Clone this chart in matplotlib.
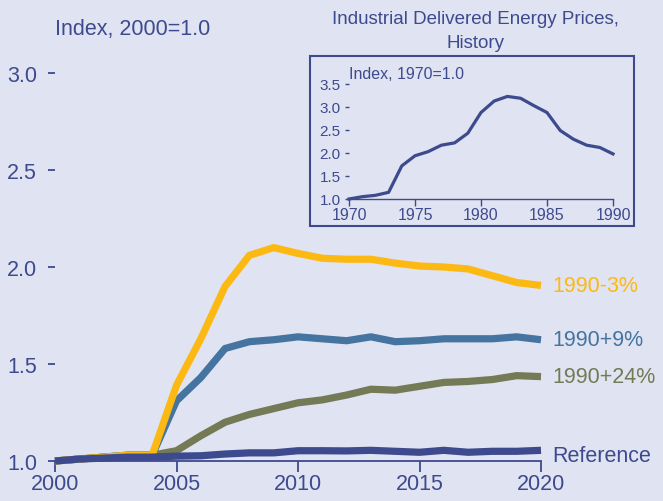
import matplotlib
matplotlib.use("Agg")
import matplotlib.pyplot as plt
from matplotlib.patches import Rectangle

plt.rcParams['font.family'] = ['Liberation Sans', 'DejaVu Sans']

years = list(range(2000, 2021))
s_minus3 = [1.0, 1.01, 1.02, 1.03, 1.03, 1.39, 1.63, 1.90, 2.06, 2.10, 2.07, 2.045, 2.04, 2.04, 2.02, 2.005, 2.0, 1.99, 1.955, 1.92, 1.905]
s_plus9 = [1.0, 1.01, 1.02, 1.03, 1.03, 1.31, 1.43, 1.58, 1.615, 1.625, 1.64, 1.63, 1.62, 1.64, 1.615, 1.62, 1.63, 1.63, 1.63, 1.64, 1.625]
s_plus24 = [1.0, 1.01, 1.02, 1.03, 1.03, 1.053, 1.13, 1.20, 1.24, 1.27, 1.30, 1.315, 1.34, 1.37, 1.365, 1.385, 1.405, 1.41, 1.42, 1.44, 1.435]
s_ref = [1.0, 1.01, 1.015, 1.02, 1.02, 1.025, 1.027, 1.036, 1.042, 1.042, 1.053, 1.053, 1.052, 1.055, 1.05, 1.045, 1.055, 1.045, 1.05, 1.05, 1.055]
series_labels = ["1990-3%", "1990+9%", "1990+24%", "Reference"]

hist_years = list(range(1970, 1991))
hist_vals = [1.0, 1.05, 1.08, 1.145, 1.72, 1.94, 2.03, 2.17, 2.22, 2.43, 2.88, 3.13, 3.23, 3.19, 3.03, 2.88, 2.49, 2.30, 2.17, 2.12, 1.98]

bg = '#E0E3F1'
navy = '#3D4A8E'
colors = ['#FDB913', '#44749F', '#737A55', '#3D4A8E']

fig = plt.figure(figsize=(6.63, 5.02), dpi=100, facecolor=bg)
ax = fig.add_axes([55/663, 40/502, 486/663, 388/502], facecolor=bg)

order = [(s_plus24, colors[2]), (s_plus9, colors[1]), (s_minus3, colors[0]), (s_ref, colors[3])]
for vals, c in order:
    ax.plot(years, vals, color=c, lw=5.2, solid_capstyle='butt', solid_joinstyle='round', clip_on=False, zorder=3)

ax.set_xlim(2000, 2020)
ax.set_ylim(1.0, 3.0)
ax.set_xticks([2000, 2005, 2010, 2015, 2020])
ax.set_yticks([1.0, 1.5, 2.0, 2.5, 3.0])
ax.set_yticklabels(['1.0', '1.5', '2.0', '2.5', '3.0'])
for s in ['top', 'right', 'left']:
    ax.spines[s].set_visible(False)
ax.spines['bottom'].set_color(navy)
ax.spines['bottom'].set_linewidth(1.3)
ax.tick_params(axis='x', colors=navy, labelsize=15.5, length=8, width=1.3, pad=1, direction='out')
ax.tick_params(axis='y', colors=navy, labelsize=15.5, length=5, width=1.3, pad=8, direction='out')
ax.text(-0.0, 1.115, "Index, 2000=1.0", transform=ax.transAxes, color=navy, fontsize=15.5, ha='left', va='center')

ends = [s_minus3[-1], s_plus9[-1], s_plus24[-1], s_ref[-1]]
dys = [0, 0, 0, -4]
for lab, v, c, dy in zip(series_labels, ends, colors, dys):
    ax.annotate(lab, xy=(2020, v), xytext=(8, dy), textcoords='offset points', color=c,
                fontsize=15.5, ha='left', va='center', annotation_clip=False)

# inset box
fig.patches.append(Rectangle((310/663, (502-227)/502), 324/663, 170/502, transform=fig.transFigure,
                             facecolor=bg, edgecolor=navy, lw=1.5, zorder=2))
fig.text(475/663, 1 - 20/502, "Industrial Delivered Energy Prices,", color=navy, fontsize=13.5, ha='center', va='center')
fig.text(475/663, 1 - 43/502, "History", color=navy, fontsize=13.5, ha='center', va='center')

ax2 = fig.add_axes([349/663, (502-200)/502, 264/663, 115/502], facecolor=bg, zorder=4)
ax2.patch.set_alpha(0)
ax2.plot(hist_years, hist_vals, color=navy, lw=2.3, clip_on=False)
ax2.set_xlim(1970, 1990)
ax2.set_ylim(1.0, 3.5)
ax2.set_xticks([1970, 1975, 1980, 1985, 1990])
ax2.set_yticks([1.0, 1.5, 2.0, 2.5, 3.0, 3.5])
ax2.set_yticklabels(['1.0', '1.5', '2.0', '2.5', '3.0', '3.5'])
for s in ['top', 'right', 'left']:
    ax2.spines[s].set_visible(False)
ax2.spines['bottom'].set_color(navy)
ax2.spines['bottom'].set_linewidth(1.0)
ax2.tick_params(axis='x', colors=navy, labelsize=11.5, length=5, width=1.0, pad=1)
ax2.tick_params(axis='y', colors=navy, labelsize=11, length=3, width=1.0, pad=3)
ax2.text(0.0, 1.03, "Index, 1970=1.0", transform=ax2.transAxes, color=navy, fontsize=11.5, ha='left', va='bottom')

fig.savefig('out.png', dpi=100, facecolor=bg)
